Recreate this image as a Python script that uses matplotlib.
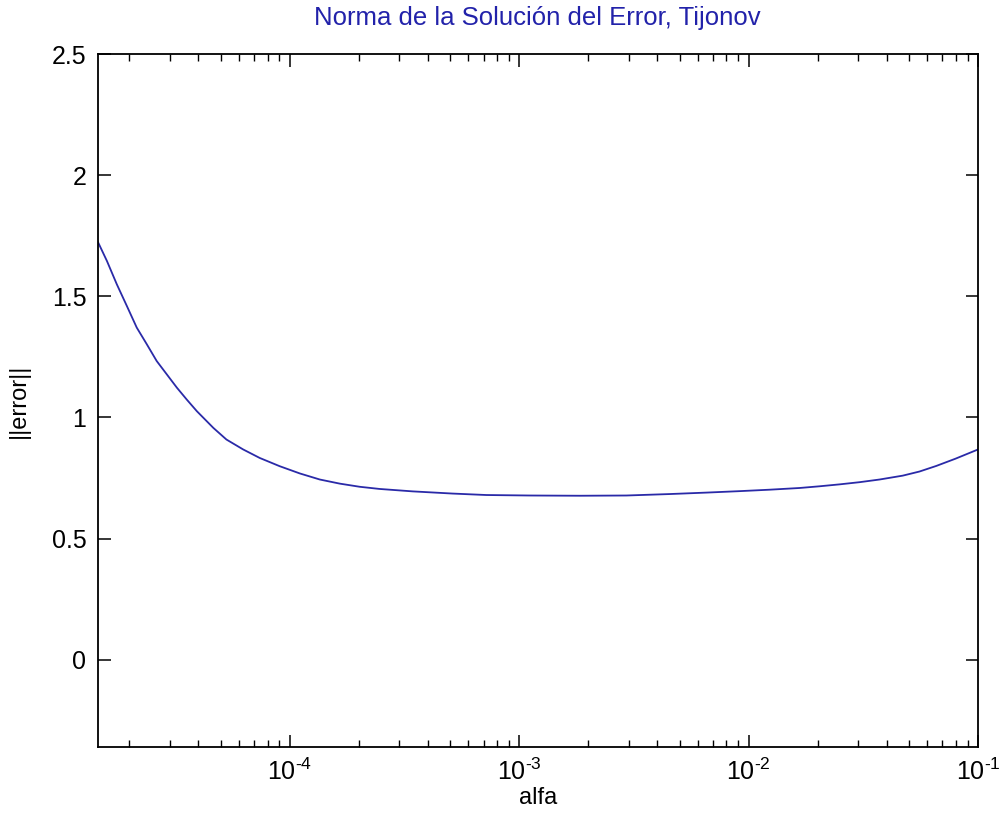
import matplotlib
matplotlib.use("Agg")
import matplotlib.pyplot as plt
from matplotlib.ticker import FuncFormatter

# Data (log10 of alfa, and ||error||)
log_alfa = [-4.838, -4.797, -4.754, -4.710, -4.667, -4.623, -4.580, -4.536,
            -4.492, -4.449, -4.405, -4.333, -4.276, -4.203, -4.131, -4.044,
            -3.956, -3.869, -3.782, -3.695, -3.608, -3.464, -3.290, -3.143,
            -2.954, -2.736, -2.533, -2.344, -2.184, -2.039, -1.908, -1.778,
            -1.691, -1.603, -1.516, -1.429, -1.328, -1.255, -1.182, -1.098,
            -1.000]
error_norm = [1.728, 1.646, 1.550, 1.460, 1.371, 1.302, 1.233, 1.178,
              1.123, 1.074, 1.026, 0.957, 0.909, 0.868, 0.833, 0.799,
              0.769, 0.744, 0.727, 0.714, 0.705, 0.695, 0.686, 0.680,
              0.678, 0.677, 0.678, 0.684, 0.690, 0.696, 0.702, 0.709,
              0.716, 0.724, 0.733, 0.744, 0.760, 0.777, 0.800, 0.830,
              0.868]
alfa = [10 ** v for v in log_alfa]

y_ticks = [0, 0.5, 1, 1.5, 2, 2.5]
y_tick_labels = ["0", "0.5", "1", "1.5", "2", "2.5"]
x_ticks = [1e-4, 1e-3, 1e-2, 1e-1]
x_exponents = {1e-4: "4", 1e-3: "3", 1e-2: "2", 1e-1: "1"}

plt.rcParams['font.family'] = ['Liberation Sans', 'DejaVu Sans']
plt.rcParams['mathtext.fontset'] = 'custom'
plt.rcParams['mathtext.rm'] = 'Liberation Sans'
plt.rcParams['mathtext.it'] = 'Liberation Sans'

fig = plt.figure(figsize=(9.99, 8.27), dpi=100)
ax = fig.add_axes([0.0976, 0.0967, 0.8814, 0.838])

ax.plot(alfa, error_norm, color='#2a2aa8', linewidth=1.3)
ax.set_xscale('log')
ax.set_xlim(10 ** log_alfa[0], 1e-1)
ax.set_ylim(-0.36, 2.5)
ax.set_yticks(y_ticks)
ax.set_yticklabels(y_tick_labels)
ax.set_xticks(x_ticks)


def fmt(v, pos):
    for k, e in x_exponents.items():
        if abs(v / k - 1) < 1e-6:
            return r'$\mathregular{10^{\text{-}' + e + r'}}$'
    return ''


ax.xaxis.set_major_formatter(FuncFormatter(fmt))

for s in ax.spines.values():
    s.set_linewidth(1.3)
    s.set_color('black')

ax.tick_params(which='major', direction='in', length=9, width=1.1,
               top=True, right=True, labelsize=18, pad=8)
ax.tick_params(which='minor', direction='in', length=5, width=1.0,
               top=True, right=True)

ax.set_title('Norma de la Solución del Error, Tijonov', color='#2222aa',
             fontsize=18.5, pad=21)
ax.set_xlabel('alfa', fontsize=17, labelpad=2)
ax.set_ylabel('||error||', fontsize=17, labelpad=16)

fig.savefig('out.png', dpi=100)
